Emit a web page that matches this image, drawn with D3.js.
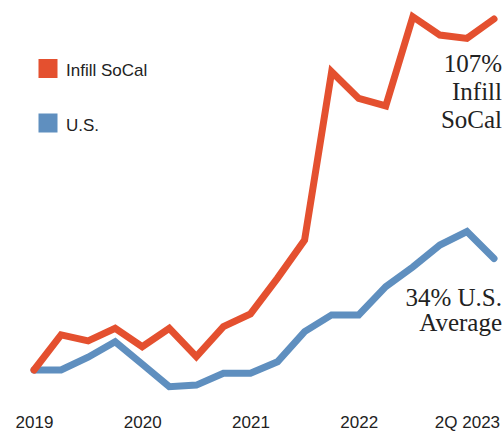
<!DOCTYPE html>
<html>
<head>
<meta charset="utf-8">
<script src="https://cdn.jsdelivr.net/npm/d3@7"></script>
<style>
  html, body { margin: 0; padding: 0; background: #fff; }
  svg { display: block; }
</style>
</head>
<body>
<div id="chart"></div>
<script>
// ---- data (percent change since start, quarterly) ----
const quarters = d3.range(18); // 2019 Q1 .. 2023 Q2
const infillSoCal = [0, 10.7, 8.9, 12.7, 7.1, 12.7, 4.1, 13.2, 17.1, 28.0, 39.6, 90.9, 82.8, 80.5, 107.7, 102.1, 101.1, 107];
const usAverage   = [0, 0, 3.9, 8.6, 1.8, -5.1, -4.6, -1.0, -1.0, 2.5, 11.7, 16.8, 16.8, 25.4, 31.4, 38.1, 42.2, 34];
const tickIndex   = [0, 4, 8, 12, 16];
const tickLabels  = ["2019", "2020", "2021", "2022", "2Q 2023"];
const seriesNames = ["Infill SoCal", "U.S."];
const endLabels   = [["107%", "Infill", "SoCal"], ["34% U.S.", "Average"]];

const W = 504, H = 432;
const red = "#e4502f", blue = "#5f8fbf";

const svg = d3.select("#chart").append("svg").attr("width", W).attr("height", H);

const x = d3.scaleLinear().domain([0, 17]).range([34, 494]);
const y = d3.scaleLinear().domain([0, 107]).range([370, 19]);

const line = d3.line().x((d, i) => x(quarters[i])).y(d => y(d));

// U.S. first (below), then Infill SoCal on top
svg.append("path").datum(usAverage)
  .attr("d", line).attr("fill", "none").attr("stroke", blue)
  .attr("stroke-width", 7).attr("stroke-linecap", "round").attr("stroke-linejoin", "miter");
svg.append("path").datum(infillSoCal)
  .attr("d", line).attr("fill", "none").attr("stroke", red)
  .attr("stroke-width", 7).attr("stroke-linecap", "round").attr("stroke-linejoin", "miter");

// x axis
const axis = d3.axisBottom(x).tickValues(tickIndex)
  .tickFormat((d, i) => tickLabels[i]).tickSize(0).tickPadding(0);
const gx = svg.append("g").attr("transform", "translate(0,416)").call(axis);
gx.select(".domain").remove();
gx.selectAll("text")
  .attr("font-family", "'Liberation Sans', Arial, sans-serif")
  .attr("font-size", 17).attr("fill", "#222");

// legend
const legend = svg.append("g");
[[red, 59, 76], [blue, 113.5, 130.5]].forEach((l, i) => {
  legend.append("rect").attr("x", 38.5).attr("y", l[1]).attr("width", 19).attr("height", 19).attr("fill", l[0]);
  legend.append("text").attr("x", 66).attr("y", l[2]).text(seriesNames[i])
    .attr("font-family", "'Liberation Sans', Arial, sans-serif")
    .attr("font-size", 17).attr("fill", "#222");
});

// end annotations
const ann = svg.append("g")
  .attr("font-family", "'Liberation Serif', 'Times New Roman', serif")
  .attr("font-size", 25).attr("fill", "#222").attr("text-anchor", "end");
[71.5, 99.5, 128].forEach((b, i) => ann.append("text").attr("x", 502).attr("y", b).text(endLabels[0][i]));
[306, 331].forEach((b, i) => ann.append("text").attr("x", 502).attr("y", b).text(endLabels[1][i]));
</script>
</body>
</html>
